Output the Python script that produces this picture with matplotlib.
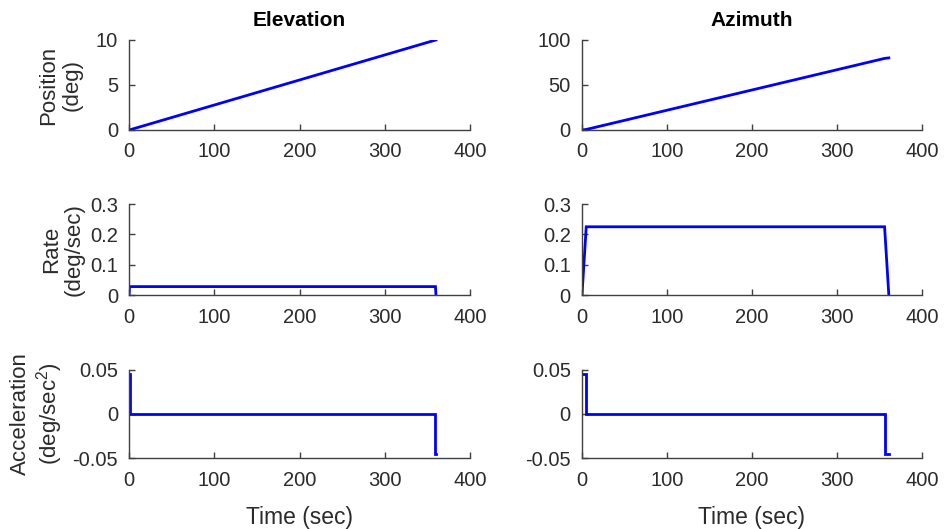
import matplotlib
matplotlib.use('Agg')
import matplotlib.pyplot as plt

plt.rcParams['font.family'] = ['Liberation Sans', 'DejaVu Sans']
plt.rcParams['mathtext.default'] = 'regular'

# elevation profile (knot points of the trapezoidal rate move)
elev_time = [0, 0.6, 359.4, 360]
elev_pos = [0, 0.008, 9.992, 10]
elev_rate = [0, 0.0278, 0.0278, 0]
elev_acc_time = [0, 0.6, 0.6, 359.4, 359.4, 360]
elev_acc = [0.045, 0.045, 0, 0, -0.045, -0.045]

# azimuth profile
azim_time = [0, 5, 356, 361]
azim_pos = [0, 0.56, 79.54, 80.1]
azim_rate = [0, 0.225, 0.225, 0]
azim_acc_time = [0, 5, 5, 356, 356, 361]
azim_acc = [0.045, 0.045, 0, 0, -0.045, -0.045]

col_titles = ['Elevation', 'Azimuth']
row_labels = ['Position\n(deg)', 'Rate\n(deg/sec)', 'Acceleration\n(deg/sec$^2$)']
row_ylims = [None, (0, 0.3), (-0.05, 0.05)]
row_yticks = [None, [0, 0.1, 0.2, 0.3], [-0.05, 0, 0.05]]
row_yticklabels = [None, ['0', '0.1', '0.2', '0.3'], ['-0.05', '0', '0.05']]
pos_ylims = [(0, 10), (0, 100)]
pos_yticks = [[0, 5, 10], [0, 50, 100]]
xticks = [0, 100, 200, 300, 400]

data = [
    [(elev_time, elev_pos), (azim_time, azim_pos)],
    [(elev_time, elev_rate), (azim_time, azim_rate)],
    [(elev_acc_time, elev_acc), (azim_acc_time, azim_acc)],
]

fig = plt.figure(figsize=(9.46, 5.29), dpi=100)

col_x = [(0.1364, 0.3605), (0.6152, 0.3594)]
row_y = [(0.7543, 0.1701), (0.4423, 0.1720), (0.1342, 0.1664)]
# right edge of each row's y label, in axes units
label_x = [-0.135, -0.129, -0.188]
axis_color = '#404040'
text_color = '#2b2b2b'

for r in range(3):
    for c in range(2):
        x0, w = col_x[c]
        y0, h = row_y[r]
        ax = fig.add_axes([x0, y0, w, h])
        t, v = data[r][c]
        ax.plot(t, v, color='#0000ff', linewidth=2.0, solid_joinstyle='miter')
        ax.set_xlim(0, 400)
        ax.set_xticks(xticks)
        if r == 0:
            ax.set_ylim(*pos_ylims[c])
            ax.set_yticks(pos_yticks[c])
        else:
            ax.set_ylim(*row_ylims[r])
            ax.set_yticks(row_yticks[r])
            ax.set_yticklabels(row_yticklabels[r])
        for side in ['top', 'right']:
            ax.spines[side].set_visible(False)
        for side in ['left', 'bottom']:
            ax.spines[side].set_color(axis_color)
            ax.spines[side].set_linewidth(1.0)
        ax.tick_params(direction='in', length=4, width=1.0, colors=axis_color,
                       labelsize=14.5, labelcolor=text_color)
        ax.tick_params(axis='x', pad=9)
        ax.tick_params(axis='y', pad=8)
        if r == 0:
            ax.set_title(col_titles[c], fontsize=15, fontweight='bold', pad=10)
        if c == 0:
            ax.set_ylabel(row_labels[r], fontsize=16, color=text_color,
                          linespacing=1.15)
            ax.yaxis.set_label_coords(label_x[r], 0.5)
        if r == 2:
            ax.set_xlabel('Time (sec)', fontsize=16.5, color=text_color, labelpad=12)

fig.savefig('out.png', dpi=100)
